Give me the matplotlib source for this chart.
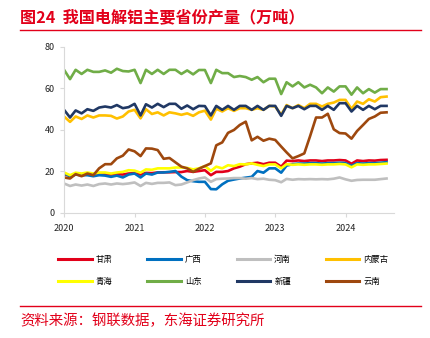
import pandas as pd
import matplotlib.pyplot as plt
import matplotlib.dates as mdates
from matplotlib.lines import Line2D

plt.rcParams['font.family'] = ['Noto Sans CJK SC', 'DejaVu Sans']

# monthly output, Jan 2020 - Aug 2024 (10k tonnes)
months = pd.date_range('2020-01-01', periods=56, freq='MS')

gansu = [18.5, 18, 18.5, 18.3, 18.5, 18.3, 18.5, 18.6, 18.5, 18.7, 18.5, 19, 19.2, 18.5,
         19.3, 19.2, 19.5, 19.6, 19.6, 19.7, 19.7, 20.2, 19.8, 20.2, 20.6, 18.2, 19.8, 19.8,
         20.2, 21.5, 22.3, 23.5, 23.9, 24.2, 23.5, 24.2, 24.2, 22.3, 25.2, 25, 25.3, 25,
         25.3, 25.3, 25, 25.3, 25.3, 25.5, 25.3, 23.7, 25.3, 25, 25.3, 25.2, 25.5, 25.6]
guangxi = [19, 17.7, 18.5, 18.2, 18.2, 17.7, 18.2, 18, 17.4, 18, 17.1, 18.5, 19, 17.1,
           19, 18.5, 19.5, 19.5, 19.8, 20.2, 17.5, 15.8, 15.3, 15, 15, 11.5, 11.4, 13.8,
           15.5, 16.1, 16.6, 17, 17.4, 20.2, 19.4, 21.5, 21.5, 19.4, 22.8, 23.5, 23.8, 23.8,
           24, 24, 23.8, 24, 24, 24.2, 24, 22.7, 24, 23.8, 24, 24, 24.2, 24.5]
henan = [14.2, 13, 13.7, 13.2, 13.7, 13, 13.9, 14.2, 13.7, 14.2, 13.9, 14.2, 14.7, 13,
         14.5, 14, 14.5, 14.5, 14.7, 13.4, 13.7, 14.7, 15.8, 16.6, 17.1, 15, 16.3, 16.5,
         16.6, 16.8, 16.8, 16.5, 16.8, 16.3, 16.5, 16, 15.8, 14.8, 16.4, 16, 16.3, 16.2,
         16.3, 16.2, 16.3, 16.2, 16.5, 17.1, 16.2, 15.5, 15.9, 16, 16, 16, 16.3, 16.6]
neimenggu = [46.5, 43.9, 46.5, 45.3, 47, 46, 47, 47, 46.8, 45.5, 46.5, 48.9, 49.7, 45.6,
             50, 47.7, 48.5, 47, 48.5, 48, 47.3, 48, 46.8, 48.5, 49.3, 45, 50.2, 48.9,
             50.5, 49.2, 50.5, 50.5, 49.7, 50.5, 49.7, 51.6, 51.3, 47.3, 52, 50.5, 52, 50.5,
             52.6, 52.6, 51.3, 52.6, 53.2, 54.5, 54.5, 50.2, 53.7, 52.6, 54.8, 53.7, 55.8, 56.1]
qinghai = [19.5, 18.2, 19.4, 19, 19.5, 19, 19.5, 19.5, 19, 19.5, 19.8, 20.6, 20.4, 19.4,
           21, 20.8, 21.5, 21.5, 21.5, 21.9, 21.9, 21.7, 21, 21.5, 22.6, 20.3, 22.3, 21.5,
           23, 22.6, 23.5, 23.4, 23.9, 23.2, 22.6, 23.4, 23.4, 21.5, 23.5, 23.2, 23.4, 23.2,
           23.4, 23.4, 23.2, 23.4, 23.4, 23.6, 23.4, 22, 23.4, 23.2, 23.4, 23.4, 23.6, 23.8]
shandong = [69, 64.5, 69, 67, 69, 68, 68, 68.7, 67.6, 69.5, 68.4, 68.2, 69, 62.6,
            69, 67, 69, 67, 69, 69, 67, 68.7, 66.8, 68.9, 68.9, 62.6, 69, 67.4,
            67.4, 65.5, 66, 65.5, 64.2, 65.5, 63, 64.7, 64.7, 57.3, 63, 61, 63, 60.5,
            61.8, 60.5, 57.7, 60.5, 58.5, 61, 61, 57, 60.5, 57.7, 59.7, 58, 59.7, 59.7]
xinjiang = [49.7, 46, 49.4, 48, 50, 49.2, 50.8, 51.3, 50.8, 52, 50.5, 51, 52.6, 47,
            52.4, 50.8, 52.6, 51, 52.6, 52.6, 50.2, 51.8, 50, 51.6, 51.5, 47, 51.6, 49.7,
            51.6, 49.7, 51.6, 51.6, 49.7, 51.6, 49.7, 51.6, 51.6, 46.8, 51.6, 50.5, 51.6, 50,
            51.6, 51.6, 49.7, 51.6, 49.7, 52.9, 52.9, 48.9, 51.6, 49.7, 51.6, 50, 51.6, 51.6]
yunnan = [17.1, 16.6, 18.7, 17.7, 19, 18.2, 21.5, 23.5, 23.5, 26.3, 27.6, 30.6, 29.7, 27.4,
          31.1, 31, 30.3, 26.1, 26.5, 24.4, 22.3, 21.5, 19.8, 21.3, 22.6, 23.9, 32.6, 34,
          38.6, 40, 42.4, 44, 35, 36.7, 34.8, 35.8, 35.2, 32, 29.2, 26.3, 27.4, 28.7,
          37, 46, 46, 47.8, 40.3, 38.5, 38.3, 35.8, 39.5, 42.4, 45.3, 46.5, 48.3, 48.5]

series = [
    ('甘肃', gansu, '#E2001A'),
    ('广西', guangxi, '#0070C0'),
    ('河南', henan, '#BFBFBF'),
    ('内蒙古', neimenggu, '#FFC000'),
    ('青海', qinghai, '#FFFF00'),
    ('山东', shandong, '#70AD47'),
    ('新疆', xinjiang, '#203864'),
    ('云南', yunnan, '#9E480E'),
]

red = '#E2001A'

fig = plt.figure(figsize=(4.3, 3.38), dpi=100)
ax = fig.add_axes([0.149, 0.370, 0.767, 0.491])

handles = []
for name, vals, color in series:
    ax.plot(months, vals, color=color, linewidth=1.9, label=name)
    handles.append(Line2D([], [], color=color, linewidth=2.2))

ax.set_ylim(0, 80)
ax.set_yticks([0, 20, 40, 60, 80])
ax.set_xlim(pd.Timestamp('2020-01-01'), pd.Timestamp('2024-09-08'))
ax.xaxis.set_major_locator(mdates.YearLocator())
ax.xaxis.set_major_formatter(mdates.DateFormatter('%Y'))

for side in ['top', 'right']:
    ax.spines[side].set_visible(False)
for side in ['left', 'bottom']:
    ax.spines[side].set_color('#D9D9D9')
    ax.spines[side].set_linewidth(0.8)
ax.tick_params(axis='both', colors='#D9D9D9', labelcolor='#222222', labelsize=6.5,
               length=3, width=0.8)
ax.tick_params(axis='x', pad=5)

# legend laid out row by row
names = [s[0] for s in series]
order = [0, 4, 1, 5, 2, 6, 3, 7]
fig.legend([handles[i] for i in order], [names[i] for i in order],
           loc='upper left', bbox_to_anchor=(0.118, 0.268), ncol=4, frameon=False,
           fontsize=6, handlelength=4.0, handletextpad=0.5, columnspacing=4.2,
           labelspacing=1.6)

# title and source
fig.text(0.047, 0.948, '图24  我国电解铝主要省份产量（万吨）', color=red,
         fontsize=11.6, fontweight='bold', va='center', ha='left')
fig.add_artist(Line2D([0.047, 0.979], [0.911, 0.911], color=red, linewidth=1.0))
fig.add_artist(Line2D([0.047, 0.979], [0.094, 0.094], color=red, linewidth=1.0))
fig.text(0.047, 0.052, '资料来源：钢联数据，东海证券研究所', color=red,
         fontsize=10.4, va='center', ha='left')

fig.savefig('out.png', dpi=100)
